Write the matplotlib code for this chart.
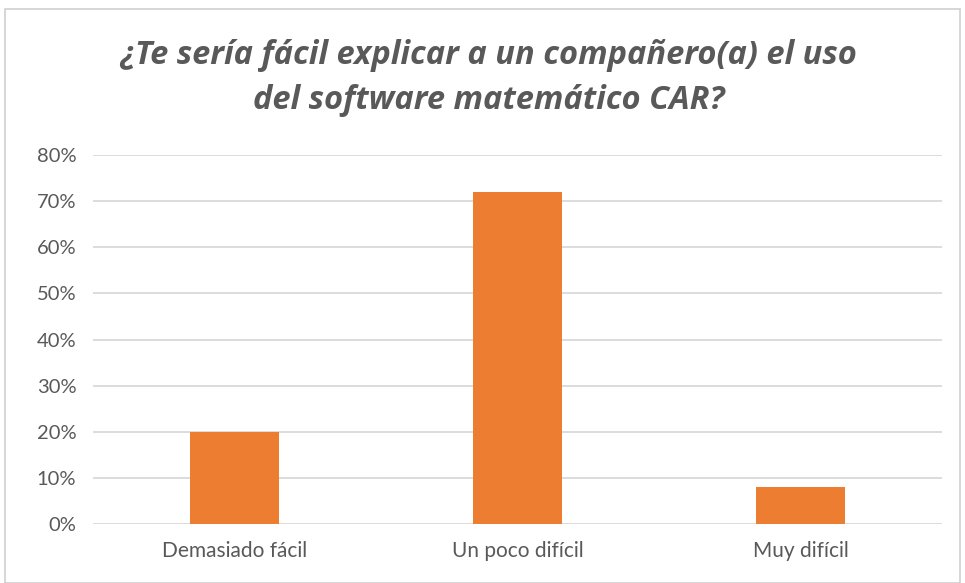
import matplotlib.pyplot as plt
from matplotlib.patches import Rectangle
from matplotlib.ticker import PercentFormatter

# --- data ---
categories = ['Demasiado fácil', 'Un poco difícil', 'Muy difícil']
values = [0.20, 0.72, 0.08]
y_ticks = [0.0, 0.1, 0.2, 0.3, 0.4, 0.5, 0.6, 0.7, 0.8]
title = '¿Te sería fácil explicar a un compañero(a) el uso\ndel software matemático CAR?'

BAR_COLOR = '#ED7D31'
TEXT_COLOR = '#595959'
GRID_COLOR = '#D9D9D9'

fig = plt.figure(figsize=(9.65, 5.83), dpi=100)

# light frame around the chart area
fig.patches.append(Rectangle((0.005, 0.0), 0.99, 0.985, transform=fig.transFigure,
                             fill=False, edgecolor='#D0D0D0', linewidth=1.2))

ax = fig.add_axes([0.0964, 0.1012, 0.8798, 0.6328])
x = range(len(categories))
ax.bar(x, values, width=0.315, color=BAR_COLOR, zorder=3)

ax.set_xlim(-0.5, len(categories) - 0.5)
ax.set_ylim(0, 0.8)
ax.set_yticks(y_ticks)
ax.yaxis.set_major_formatter(PercentFormatter(1.0, decimals=0))
ax.set_xticks(list(x))
ax.set_xticklabels(categories)

ax.grid(axis='y', color=GRID_COLOR, linewidth=1.3, zorder=0)
for side in ax.spines.values():
    side.set_visible(False)
ax.tick_params(length=0, colors=TEXT_COLOR)
ax.tick_params(axis='x', pad=12, labelsize=15)
ax.tick_params(axis='y', pad=12, labelsize=14.5)
for lbl in ax.get_xticklabels() + ax.get_yticklabels():
    lbl.set_fontfamily('Lato')

fig.text(0.506, 0.866, title, ha='center', va='center', fontsize=23.5,
         fontweight='bold', fontstyle='italic', color=TEXT_COLOR,
         family='Open Sans', linespacing=1.45)

fig.savefig('out.png', dpi=100)
